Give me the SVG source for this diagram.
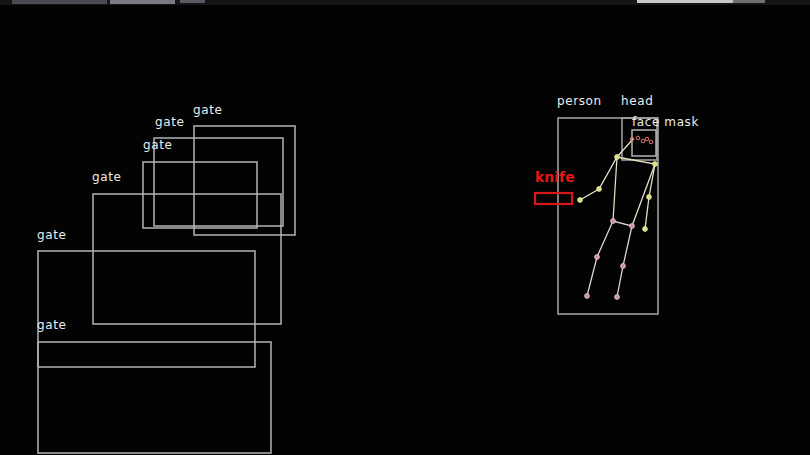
<svg xmlns="http://www.w3.org/2000/svg" width="810" height="455" viewBox="0 0 810 455">
<defs>
<style>
.bg{fill:#030303}
.box{fill:none;stroke:#b4b4b8;stroke-width:1.5}
.pbox{fill:none;stroke:#a8a8ac;stroke-width:1.5}
.lbl{font-family:"DejaVu Sans",sans-serif;font-size:12px;fill:#ececec;letter-spacing:0.6px}
.knife{font-family:"DejaVu Sans",sans-serif;font-size:14px;font-weight:bold;fill:#e01818}
.kbox{fill:none;stroke:#d81818;stroke-width:2.2}
.bone{stroke:#e4e0c4;stroke-width:1.3;fill:none}
.leg{stroke:#e2cfd6;stroke-width:1.3;fill:none}
.kp{fill:#d8e070;stroke:#f0f0c0;stroke-width:0.8}
.kpp{fill:#c890a8;stroke:#f0d0dc;stroke-width:0.8}
.fkp{fill:none;stroke:#e07878;stroke-width:1}
</style>
</defs>
<rect class="bg" x="0" y="0" width="810" height="455"/>
<g id="frame-top">
<rect x="0" y="0" width="810" height="5" fill="#151517"/>
<rect x="12" y="0" width="95" height="4" fill="#4a4a50"/>
<rect x="110" y="0" width="65" height="4" fill="#7a7a80"/>
<rect x="180" y="0" width="25" height="3" fill="#5a5a60"/>
<rect x="637" y="0" width="96" height="3" fill="#c8c8c8"/>
<rect x="733" y="0" width="32" height="3" fill="#707070"/>
</g>
<g id="gate-a"><rect class="box" x="194" y="126" width="101" height="109"/><text class="lbl" x="193" y="114">gate</text></g>
<g id="gate-b"><rect class="box" x="154" y="138" width="129" height="88"/><text class="lbl" x="155" y="126">gate</text></g>
<g id="gate-c"><rect class="box" x="143" y="162" width="114" height="66"/><text class="lbl" x="143" y="149">gate</text></g>
<g id="gate-d"><rect class="box" x="93" y="194" width="188" height="130"/><text class="lbl" x="92" y="181">gate</text></g>
<g id="gate-e"><rect class="box" x="38" y="251" width="217" height="116"/><text class="lbl" x="37" y="239">gate</text></g>
<g id="gate-f"><rect class="box" x="38" y="342" width="233" height="111"/><text class="lbl" x="37" y="329">gate</text></g>
<g id="person"><rect class="pbox" x="558" y="118" width="100" height="196"/><text class="lbl" x="557" y="105">person</text></g>
<g id="head"><rect class="pbox" x="622" y="118" width="35" height="42"/><text class="lbl" x="621" y="105">head</text></g>
<g id="face-mask"><rect class="box" x="632" y="130" width="24" height="26" stroke="#b8b0c4"/><text class="lbl" x="632" y="126">face mask</text></g>
<g id="knife"><rect class="kbox" x="535" y="193" width="37" height="11"/><text class="knife" x="535" y="182">knife</text></g>
<g id="skeleton">
<polyline class="bone" points="633,139 617,157 599,189 580,200"/>
<polyline class="bone" points="617,157 655,164 649,197 645,229"/>
<line class="bone" x1="617" y1="157" x2="613" y2="221"/>
<line class="bone" x1="655" y1="164" x2="632" y2="226"/>
<polyline class="leg" points="587,296 597,257 613,221 632,226 623,266 617,297"/>
<circle class="fkp" cx="632" cy="139" r="1.8"/>
<circle class="fkp" cx="638" cy="138" r="1.8"/>
<circle class="fkp" cx="643" cy="141" r="1.8"/>
<circle class="fkp" cx="647" cy="139" r="1.8"/>
<circle class="fkp" cx="651" cy="142" r="1.8"/>
<circle class="kp" cx="617" cy="157" r="2.4"/>
<circle class="kp" cx="655" cy="164" r="2.4"/>
<circle class="kp" cx="599" cy="189" r="2.4"/>
<circle class="kp" cx="580" cy="200" r="2.4"/>
<circle class="kp" cx="649" cy="197" r="2.4"/>
<circle class="kp" cx="645" cy="229" r="2.4"/>
<circle class="kpp" cx="613" cy="221" r="2.4"/>
<circle class="kpp" cx="632" cy="226" r="2.4"/>
<circle class="kpp" cx="597" cy="257" r="2.4"/>
<circle class="kpp" cx="623" cy="266" r="2.4"/>
<circle class="kpp" cx="587" cy="296" r="2.4"/>
<circle class="kpp" cx="617" cy="297" r="2.4"/>
</g>
</svg>
